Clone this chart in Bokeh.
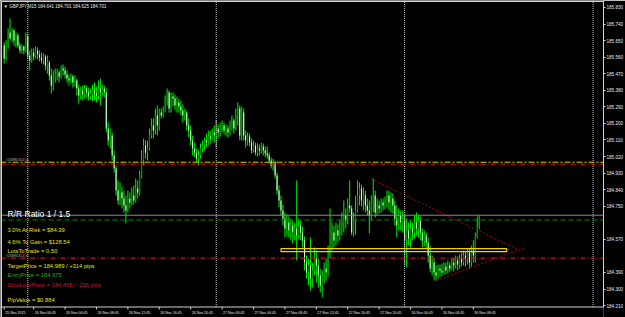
from bokeh.plotting import figure
from bokeh.models import Range1d, LinearAxis, FixedTicker, PrintfTickFormatter, Span, Label, ColumnDataSource
from bokeh.embed import file_html
from bokeh.resources import INLINE

symbol = "GBPJPY,M15"

opens = [185.623, 185.553, 185.623, 185.694, 185.661, 185.705, 185.651, 185.678, 185.623, 185.596,
         185.618, 185.596, 185.672, 185.569, 185.542, 185.585, 185.564, 185.596, 185.574, 185.558,
         185.542, 185.564, 185.515, 185.531, 185.460, 185.406, 185.444, 185.466, 185.477, 185.455,
         185.498, 185.488, 185.466, 185.444, 185.433, 185.455, 185.422, 185.433, 185.390, 185.352,
         185.379, 185.357, 185.390, 185.368, 185.346, 185.363, 185.379, 185.363, 185.352, 185.390,
         185.368, 185.390, 185.368, 185.172, 185.107, 185.134, 185.026, 184.955, 184.835, 184.781,
         184.825, 184.792, 184.754, 184.727, 184.792, 184.770, 184.808, 184.781, 184.846, 184.825,
         184.917, 184.998, 185.080, 185.042, 185.064, 185.134, 185.189, 185.161, 185.243, 185.189,
         185.259, 185.243, 185.270, 185.325, 185.368, 185.281, 185.346, 185.335, 185.297, 185.314,
         185.292, 185.270, 185.243, 185.259, 185.189, 185.161, 185.107, 185.064, 185.042, 185.009,
         185.026, 185.064, 185.080, 185.107, 185.096, 185.129, 185.118, 185.151, 185.134, 185.172,
         185.151, 185.172, 185.189, 185.161, 185.172, 185.151, 185.183, 185.216, 185.172, 185.243,
         185.281, 185.134, 185.259, 185.134, 185.107, 185.129, 185.096, 185.053, 185.080, 185.042,
         185.064, 185.053, 185.075, 185.053, 185.036, 185.026, 184.998, 184.971, 184.988, 184.917,
         184.835, 184.781, 184.727, 184.683, 184.629, 184.661, 184.618, 184.645, 184.607, 184.629,
         184.591, 184.645, 184.607, 184.564, 184.444, 184.390, 184.428, 184.357, 184.401, 184.466,
         184.428, 184.373, 184.319, 184.357, 184.411, 184.390, 184.482, 184.536, 184.607, 184.564,
         184.618, 184.591, 184.629, 184.661, 184.700, 184.672, 184.754, 184.738, 184.607, 184.672,
         184.727, 184.808, 184.846, 184.781, 184.808, 184.754, 184.727, 184.700, 184.781, 184.808,
         184.716, 184.754, 184.738, 184.770, 184.754, 184.781, 184.808, 184.770, 184.792, 184.754,
         184.683, 184.645, 184.700, 184.661, 184.683, 184.564, 184.618, 184.575, 184.629, 184.607,
         184.661, 184.629, 184.672, 184.607, 184.564, 184.591, 184.553, 184.482, 184.411, 184.444,
         184.390, 184.373, 184.411, 184.401, 184.390, 184.422, 184.401, 184.428, 184.411, 184.444,
         184.428, 184.455, 184.433, 184.466, 184.444, 184.482, 184.466, 184.498, 184.444, 184.509,
         184.482, 184.591, 184.641]

highs = [185.640, 185.651, 185.716, 185.770, 185.716, 185.716, 185.694, 185.689, 185.640, 185.629,
         185.623, 185.694, 185.683, 185.596, 185.607, 185.607, 185.618, 185.613, 185.596, 185.585,
         185.580, 185.574, 185.569, 185.542, 185.498, 185.488, 185.498, 185.498, 185.488, 185.515,
         185.520, 185.509, 185.488, 185.466, 185.471, 185.466, 185.460, 185.444, 185.411, 185.401,
         185.406, 185.411, 185.406, 185.395, 185.390, 185.411, 185.422, 185.401, 185.433, 185.444,
         185.411, 185.406, 185.390, 185.205, 185.172, 185.151, 185.053, 184.971, 184.890, 184.879,
         184.857, 184.835, 184.808, 184.835, 184.825, 184.852, 184.863, 184.901, 184.890, 184.944,
         185.053, 185.118, 185.107, 185.107, 185.172, 185.227, 185.227, 185.281, 185.297, 185.281,
         185.281, 185.292, 185.352, 185.390, 185.379, 185.368, 185.368, 185.357, 185.346, 185.335,
         185.325, 185.303, 185.281, 185.270, 185.227, 185.189, 185.134, 185.096, 185.064, 185.053,
         185.091, 185.107, 185.123, 185.145, 185.161, 185.161, 185.172, 185.189, 185.216, 185.194,
         185.205, 185.216, 185.205, 185.194, 185.189, 185.216, 185.243, 185.227, 185.281, 185.314,
         185.297, 185.292, 185.281, 185.161, 185.151, 185.145, 185.118, 185.107, 185.096, 185.091,
         185.085, 185.096, 185.091, 185.075, 185.075, 185.042, 185.015, 185.009, 184.998, 184.933,
         184.863, 184.808, 184.759, 184.716, 184.705, 184.694, 184.683, 184.672, 184.661, 184.890,
         184.683, 184.672, 184.640, 184.585, 184.482, 184.466, 184.580, 184.444, 184.526, 184.509,
         184.466, 184.411, 184.401, 184.444, 184.466, 184.536, 184.738, 184.661, 184.645, 184.661,
         184.651, 184.672, 184.716, 184.781, 184.738, 184.792, 184.890, 184.754, 184.716, 184.808,
         184.890, 184.879, 184.868, 184.852, 184.835, 184.792, 184.781, 184.808, 184.901, 184.835,
         184.792, 184.781, 184.792, 184.792, 184.803, 184.835, 184.835, 184.825, 184.819, 184.781,
         184.754, 184.738, 184.727, 184.727, 184.710, 184.683, 184.661, 184.672, 184.661, 184.700,
         184.716, 184.705, 184.694, 184.629, 184.618, 184.607, 184.580, 184.536, 184.482, 184.466,
         184.428, 184.433, 184.433, 184.439, 184.444, 184.444, 184.455, 184.444, 184.466, 184.466,
         184.482, 184.477, 184.488, 184.498, 184.509, 184.509, 184.520, 184.520, 184.536, 184.564,
         184.607, 184.694, 184.701]

lows = [185.526, 185.542, 185.607, 185.651, 185.640, 185.623, 185.613, 185.607, 185.580, 185.580,
        185.574, 185.585, 185.553, 185.488, 185.531, 185.542, 185.553, 185.547, 185.536, 185.526,
        185.520, 185.488, 185.471, 185.433, 185.363, 185.379, 185.422, 185.433, 185.422, 185.444,
        185.460, 185.444, 185.422, 185.406, 185.417, 185.395, 185.401, 185.352, 185.308, 185.330,
        185.325, 185.335, 185.341, 185.325, 185.330, 185.319, 185.325, 185.314, 185.330, 185.297,
        185.352, 185.341, 185.151, 185.080, 185.064, 184.998, 184.933, 184.808, 184.759, 184.754,
        184.738, 184.716, 184.656, 184.716, 184.738, 184.754, 184.759, 184.770, 184.792, 184.808,
        184.901, 184.971, 185.009, 184.998, 185.053, 185.118, 185.118, 185.140, 185.134, 185.161,
        185.227, 185.232, 185.259, 185.297, 185.259, 185.259, 185.292, 185.270, 185.259, 185.259,
        185.243, 185.205, 185.216, 185.161, 185.123, 185.080, 185.026, 185.015, 184.988, 184.971,
        185.009, 185.042, 185.053, 185.069, 185.080, 185.091, 185.107, 185.096, 185.069, 185.118,
        185.129, 185.151, 185.140, 185.129, 185.123, 185.134, 185.161, 185.145, 185.161, 185.189,
        185.107, 185.107, 185.107, 185.069, 185.080, 185.075, 185.036, 185.042, 185.026, 185.020,
        185.026, 185.036, 185.026, 185.015, 185.009, 184.982, 184.955, 184.944, 184.901, 184.814,
        184.743, 184.700, 184.645, 184.580, 184.585, 184.580, 184.564, 184.547, 184.564, 184.455,
        184.575, 184.564, 184.526, 184.401, 184.357, 184.319, 184.292, 184.308, 184.373, 184.335,
        184.308, 184.281, 184.254, 184.330, 184.346, 184.368, 184.466, 184.509, 184.526, 184.536,
        184.553, 184.564, 184.591, 184.607, 184.629, 184.651, 184.716, 184.591, 184.585, 184.596,
        184.716, 184.754, 184.748, 184.727, 184.716, 184.700, 184.602, 184.672, 184.716, 184.689,
        184.700, 184.710, 184.716, 184.727, 184.732, 184.743, 184.727, 184.716, 184.710, 184.645,
        184.580, 184.618, 184.618, 184.607, 184.428, 184.417, 184.536, 184.526, 184.564, 184.575,
        184.591, 184.580, 184.564, 184.526, 184.531, 184.520, 184.444, 184.390, 184.373, 184.346,
        184.346, 184.357, 184.368, 184.368, 184.379, 184.379, 184.384, 184.390, 184.401, 184.395,
        184.411, 184.401, 184.411, 184.422, 184.428, 184.422, 184.433, 184.411, 184.422, 184.444,
        184.444, 184.575, 184.625]

closes = [185.553, 185.623, 185.694, 185.661, 185.705, 185.651, 185.678, 185.623, 185.596, 185.618,
          185.596, 185.672, 185.569, 185.542, 185.585, 185.564, 185.596, 185.574, 185.558, 185.542,
          185.564, 185.515, 185.531, 185.460, 185.406, 185.444, 185.466, 185.477, 185.455, 185.498,
          185.488, 185.466, 185.444, 185.433, 185.455, 185.422, 185.433, 185.390, 185.352, 185.379,
          185.357, 185.390, 185.368, 185.346, 185.363, 185.379, 185.363, 185.352, 185.390, 185.368,
          185.390, 185.368, 185.172, 185.107, 185.134, 185.026, 184.955, 184.835, 184.781, 184.825,
          184.792, 184.754, 184.727, 184.792, 184.770, 184.808, 184.781, 184.846, 184.825, 184.917,
          184.998, 185.080, 185.042, 185.064, 185.134, 185.189, 185.161, 185.243, 185.189, 185.259,
          185.243, 185.270, 185.325, 185.368, 185.281, 185.346, 185.335, 185.297, 185.314, 185.292,
          185.270, 185.243, 185.259, 185.189, 185.161, 185.107, 185.064, 185.042, 185.009, 185.026,
          185.064, 185.080, 185.107, 185.096, 185.129, 185.118, 185.151, 185.134, 185.172, 185.151,
          185.172, 185.189, 185.161, 185.172, 185.151, 185.183, 185.216, 185.172, 185.243, 185.281,
          185.134, 185.259, 185.134, 185.107, 185.129, 185.096, 185.053, 185.080, 185.042, 185.064,
          185.053, 185.075, 185.053, 185.036, 185.026, 184.998, 184.971, 184.988, 184.917, 184.835,
          184.781, 184.727, 184.683, 184.629, 184.661, 184.618, 184.645, 184.607, 184.629, 184.591,
          184.645, 184.607, 184.564, 184.444, 184.390, 184.428, 184.357, 184.401, 184.466, 184.428,
          184.373, 184.319, 184.357, 184.411, 184.390, 184.482, 184.536, 184.607, 184.564, 184.618,
          184.591, 184.629, 184.661, 184.700, 184.672, 184.754, 184.738, 184.607, 184.672, 184.727,
          184.808, 184.846, 184.781, 184.808, 184.754, 184.727, 184.700, 184.781, 184.808, 184.716,
          184.754, 184.738, 184.770, 184.754, 184.781, 184.808, 184.770, 184.792, 184.754, 184.683,
          184.645, 184.700, 184.661, 184.683, 184.564, 184.618, 184.575, 184.629, 184.607, 184.661,
          184.629, 184.672, 184.607, 184.564, 184.591, 184.553, 184.482, 184.411, 184.444, 184.390,
          184.373, 184.411, 184.401, 184.390, 184.422, 184.401, 184.428, 184.411, 184.444, 184.428,
          184.455, 184.433, 184.466, 184.444, 184.482, 184.466, 184.498, 184.444, 184.509, 184.482,
          184.591, 184.641, 184.701]

n = len(closes)
assert len(opens) == n and len(highs) == n and len(lows) == n, (len(opens), len(highs), len(lows), n)

# time axis (bar index of each label)
time_ticks = [0, 15, 31, 47, 63, 79, 95, 111, 127, 143, 159, 175, 191, 207, 223, 239]
time_labels = ["25 Nov 2015", "26 Nov 00:45", "26 Nov 04:45", "26 Nov 08:45", "26 Nov 12:45",
               "26 Nov 16:45", "26 Nov 20:45", "27 Nov 00:45", "27 Nov 04:45", "27 Nov 08:45",
               "27 Nov 12:45", "27 Nov 16:45", "27 Nov 20:45", "30 Nov 00:45", "30 Nov 04:45",
               "30 Nov 08:45"]
day_separators = [12, 108, 204, 300]

price_ticks = [185.830, 185.740, 185.650, 185.560, 185.470, 185.380, 185.290, 185.200, 185.110,
               185.020, 184.930, 184.840, 184.750, 184.570, 184.390, 184.300, 184.210]

target_price = 184.989
tp_line_price = 184.978
entry_price = 184.675
stop_price = 184.468
bid_price = 184.701

zone_bars = [141, 256]
zone_prices = [184.503, 184.519]
upper_trend_x = [187.0, 261.5]
upper_trend_y = [184.898, 184.515]
lower_trend_x = [220.0, 265.5]
lower_trend_y = [184.346, 184.526]

order_ticket = "#26880324"
rr_ratio = "1 / 1.5"
risk_pct, risk_amt = "3.0%", 84.39
gain_pct, gain_amt = "4.6%", 128.54
lots = 0.50
target_pips, stop_pips = 314, 206
pip_value = 0.884

# ---------------- layout ----------------
FRAME_W, H = 603, 317
BAR_PX, BAR0_PX = 1.963, 3.7
PX_PER_PRICE = 184.0
Y_TOP = 185.868
x_start = -BAR0_PX / BAR_PX
x_end = x_start + FRAME_W / BAR_PX
y_start = Y_TOP - H / PX_PER_PRICE


def y_at(px):
    return Y_TOP - px / PX_PER_PRICE


def x_at(px):
    return x_start + px / BAR_PX


FONT = "Liberation Sans"
FG = "#d2d2d2"
YELLOW = "#e0e000"
GREEN = "#1fb41f"
RED = "#d0103a"

p = figure(frame_width=FRAME_W, frame_height=H,
           x_range=Range1d(x_start, x_end), y_range=Range1d(y_start, Y_TOP),
           toolbar_location=None, output_backend="svg",
           x_axis_location=None, y_axis_location=None,
           min_border=0, min_border_right=22,
           background_fill_color="black", border_fill_color="black",
           outline_line_color=None)
p.xgrid.grid_line_color = None
p.ygrid.grid_line_color = None
for g in p.grid:
    g.visible = False

yaxis = LinearAxis(ticker=FixedTicker(ticks=price_ticks),
                   formatter=PrintfTickFormatter(format="%.3f"),
                   bounds=(y_at(306.5), Y_TOP))
yaxis.axis_line_color = FG
yaxis.major_tick_line_color = FG
yaxis.major_tick_out = 2
yaxis.major_tick_in = 0
yaxis.minor_tick_out = 0
yaxis.major_label_standoff = 1
yaxis.major_label_text_font = FONT
yaxis.major_label_text_font_size = "4.6px"
yaxis.major_label_text_color = "#e6e6e6"
p.add_layout(yaxis, "right")

idx = list(range(n))
body_top = [max(o, c) for o, c in zip(opens, closes)]
body_bot = [min(o, c) for o, c in zip(opens, closes)]
body_col = ["#008a00" if c >= o else "#d4ffd4" for o, c in zip(opens, closes)]
src = ColumnDataSource(dict(x=idx, high=highs, low=lows, top=body_top, bottom=body_bot, col=body_col))

p.segment(x0="x", y0="low", x1="x", y1="high", source=src, line_color="#00ee00", line_width=1)
p.vbar(x="x", width=0.55, top="top", bottom="bottom", fill_color="col", line_color=None, source=src)

# rectangle zone and triangle trend lines
p.quad(left=[zone_bars[0]], right=[zone_bars[1]], bottom=[zone_prices[0]], top=[zone_prices[1]],
       fill_color=None, line_color="#f2d200", line_width=1.2)
p.line(upper_trend_x, upper_trend_y, line_color="#b40000", line_dash="2 2", line_width=1)
p.line(lower_trend_x, lower_trend_y, line_color="#b40000", line_dash="2 2", line_width=1)

# horizontal levels
p.add_layout(Span(location=bid_price, dimension="width", line_color="#8a8a8a", line_width=1))
p.add_layout(Span(location=target_price, dimension="width", line_color="#d2d200", line_dash="6 2 2 2", line_width=1))
p.add_layout(Span(location=tp_line_price, dimension="width", line_color="#e01010", line_dash="5 2 1 2", line_width=1))
p.add_layout(Span(location=entry_price, dimension="width", line_color="#008c00", line_dash="5 3", line_width=1))
p.add_layout(Span(location=stop_price, dimension="width", line_color="#c8102e", line_dash="5 2 1 2", line_width=1.2))

# day separators
p.segment(x0=day_separators, y0=[y_at(306.5)] * len(day_separators), x1=day_separators,
          y1=[Y_TOP] * len(day_separators), line_color="#c8c8c8", line_dash="1 1", line_width=1)

# chart frame
p.add_layout(Span(location=y_at(1.0), dimension="width", line_color=FG, line_width=1))
p.add_layout(Span(location=y_at(306.5), dimension="width", line_color=FG, line_width=1))
p.add_layout(Span(location=x_at(1.0), dimension="height", line_color=FG, line_width=1))

# time axis ticks and labels
p.segment(x0=time_ticks, y0=[y_at(306.5)] * len(time_ticks), x1=time_ticks,
          y1=[y_at(309.0)] * len(time_ticks), line_color=FG, line_width=1)
for t, lab in zip(time_ticks, time_labels):
    p.add_layout(Label(x=t, y=H - 312, x_units="data", y_units="screen", text=lab,
                       text_font=FONT, text_font_size="3.6px", text_color="#e6e6e6",
                       text_baseline="middle", x_offset=1))

# header
p.add_layout(Label(x=3, y=H - 5.5, x_units="screen", y_units="screen",
                   text=f"\u25bc {symbol}  {opens[-1]:.3f} {highs[-1]:.3f} {lows[-1]:.3f} {closes[-1]:.3f}",
                   text_font=FONT, text_font_size="4.5px", text_color="#e6e6e6", text_baseline="middle"))

# order labels
for price, tag in [(target_price, "tp"), (stop_price, "sl")]:
    p.add_layout(Label(x=5, y=price, x_units="screen", y_units="data", text=f"{order_ticket} {tag}",
                       text_font=FONT, text_font_size="3.8px", text_color="#a8a8a8",
                       text_baseline="bottom", y_offset=0.5))

# info panel
info = [
    (f"R/R Ratio  {rr_ratio}", "#ffffff", "8.5px", 213.5),
    (f"{risk_pct} At Risk =  ${risk_amt:.2f}", YELLOW, "5.8px", 229.5),
    (f"{gain_pct} To Gain =  ${gain_amt:.2f}", YELLOW, "5.8px", 241.0),
    (f"LotsToTrade = {lots:.2f}", YELLOW, "5.8px", 250.0),
    (f"TargetPrice = {target_price:.3f} / +{target_pips} pips", YELLOW, "5.8px", 265.0),
    (f"EntryPrice = {entry_price:.3f}", GREEN, "5.8px", 274.5),
    (f"StopLossPrice = {stop_price:.3f} / -{stop_pips} pips", RED, "5.8px", 284.5),
    (f"PipValue = ${pip_value:.3f}", YELLOW, "5.8px", 299.0),
]
for txt, col, fs, ypx in info:
    p.add_layout(Label(x=7, y=H - ypx, x_units="screen", y_units="screen", text=txt,
                       text_font=FONT, text_font_size=fs, text_color=col, text_baseline="middle"))

# price boxes on the right scale
boxes = [
    (target_price, "#e6e600", "#000000"),
    (bid_price, "#ffffff", "#000000"),
    (entry_price, "#22c822", "#003000"),
    (stop_price, "#d01038", "#ffd0d8"),
]
for price, bg, fg in boxes:
    p.add_layout(Label(x=FRAME_W + 1, y=price, x_units="screen", y_units="data", text=f"{price:.3f}",
                       text_font=FONT, text_font_size="4.6px", text_color=fg, text_baseline="middle",
                       background_fill_color=bg, padding=1))

open("out.html", "w").write(file_html(p, INLINE))
